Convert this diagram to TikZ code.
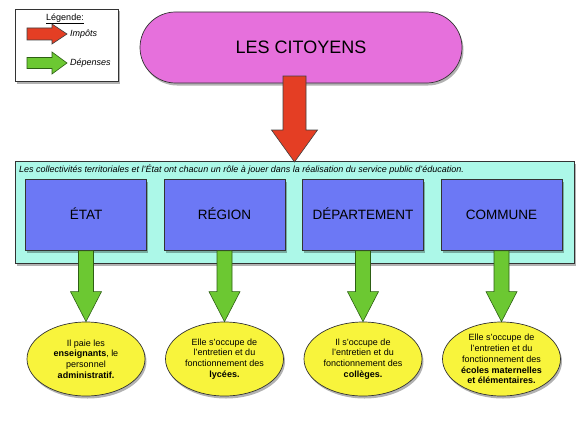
\documentclass[tikz,border=0pt]{standalone}
\usepackage{fontspec}
\setmainfont{Liberation Sans}
\usetikzlibrary{shapes.geometric,shadows,calc}
\definecolor{cpink}{RGB}{230,112,220}
\definecolor{cred}{RGB}{228,62,36}
\definecolor{ccyan}{RGB}{172,248,232}
\definecolor{cblue}{RGB}{108,120,245}
\definecolor{cgreen}{RGB}{108,200,50}
\definecolor{cgreendk}{RGB}{45,95,20}
\definecolor{cyell}{RGB}{248,244,60}
% down-pointing block arrow: style, start, tip, shaft half width, head half width, head length
\newcommand{\dnfat}[6]{\draw[#1] ($(#2)+(-#4,0)$) -- ($(#2)+(#4,0)$) -- ($(#3)+(#4,-#6)$) -- ($(#3)+(#5,-#6)$) -- (#3) -- ($(#3)+(-#5,-#6)$) -- ($(#3)+(-#4,-#6)$) -- cycle;}
% right-pointing block arrow
\newcommand{\rtfat}[6]{\draw[#1] ($(#2)+(0,-#4)$) -- ($(#3)+(-#6,-#4)$) -- ($(#3)+(-#6,-#5)$) -- (#3) -- ($(#3)+(-#6,#5)$) -- ($(#3)+(-#6,#4)$) -- ($(#2)+(0,#4)$) -- cycle;}
\begin{document}
\begin{tikzpicture}[x=1pt,y=-1pt,
  shad/.style={drop shadow={shadow xshift=1.5pt,shadow yshift=-2.5pt,opacity=0.3,fill=black}},
  outl/.style={draw=black!80,line width=0.7pt},
  bluebox/.style={outl,fill=cblue,minimum width=121pt,minimum height=71pt,inner sep=0pt,text height=9.7pt,text depth=0pt,font=\fontsize{13.5}{15}\selectfont,shad},
  bubble/.style={ellipse,outl,fill=cyell,minimum width=118pt,minimum height=74pt,inner sep=0pt,align=center,font=\fontsize{9}{10.8}\selectfont,shad},
  redfat/.style={draw=black!75,line width=0.6pt,fill=cred},
  greenfat/.style={draw=cgreendk,line width=0.6pt,fill=cgreen},
  smalltxt/.style={font=\fontsize{9}{11}\selectfont,inner sep=0pt}]
\useasboundingbox (0,0) rectangle (588,420);
% legend
\node[outl,fill=white,shad,minimum width=103pt,minimum height=72pt,inner sep=0pt] (leg) at (66.5,45) {};
\node[smalltxt] (legt) at (65,19) {\underline{Légende:}};
\coordinate (lr0) at (27,34);
\coordinate (lr1) at (67,34);
\rtfat{redfat}{lr0}{lr1}{6}{10}{15}
\node[smalltxt,anchor=west,font=\itshape\fontsize{9}{11}\selectfont] (limp) at (70,34) {Impôts};
\coordinate (lg0) at (27,63);
\coordinate (lg1) at (67,63);
\rtfat{greenfat}{lg0}{lg1}{5.5}{11}{15}
\node[smalltxt,anchor=west,font=\itshape\fontsize{9}{11}\selectfont] (ldep) at (70,63) {Dépenses};
% citizens
\node[outl,fill=cpink,rounded corners=35.5pt,minimum width=322pt,minimum height=71pt,shad,font=\fontsize{18}{22}\selectfont] (cit) at (301,47.5) {LES CITOYENS};
% collectivities box
\node[outl,fill=ccyan,minimum width=559pt,minimum height=102pt,inner sep=0pt,shad] (coll) at (294.5,212) {};
\node[smalltxt,anchor=west,font=\itshape\fontsize{9}{11}\selectfont] (capt) at (19,169.5) {Les collectivités territoriales et l'État ont chacun un rôle à jouer dans la réalisation du service public d'éducation.};
\node[bluebox] (etat) at (86,215) {ÉTAT};
\node[bluebox] (reg) at (224.5,215) {RÉGION};
\node[bluebox] (dep) at (363,215) {DÉPARTEMENT};
\node[bluebox] (com) at (501.5,215) {COMMUNE};
% red arrow
\coordinate (rs) at (294.5,76);
\coordinate (rt) at (294.5,162);
\dnfat{redfat}{rs}{rt}{11.5}{23}{32}
% bubbles
\node[bubble] (e1) at (86,359) {Il paie les\\\textbf{enseignants}, le\\personnel\\\textbf{administratif.}};
\node[bubble] (e2) at (224.5,359) {Elle s'occupe de\\l'entretien et du\\fonctionnement des\\\textbf{lycées.}};
\node[bubble] (e3) at (363,359) {Il s'occupe de\\l'entretien et du\\fonctionnement des\\\textbf{collèges.}};
\node[bubble] (e4) at (501.5,359) {Elle s'occupe de\\l'entretien et du\\fonctionnement des\\\textbf{écoles maternelles}\\\textbf{et élémentaires.}};
% green arrows
\dnfat{greenfat}{etat.south}{e1.north}{7.5}{15.5}{30}
\dnfat{greenfat}{reg.south}{e2.north}{7.5}{15.5}{30}
\dnfat{greenfat}{dep.south}{e3.north}{7.5}{15.5}{30}
\dnfat{greenfat}{com.south}{e4.north}{7.5}{15.5}{30}
\end{tikzpicture}
\end{document}
